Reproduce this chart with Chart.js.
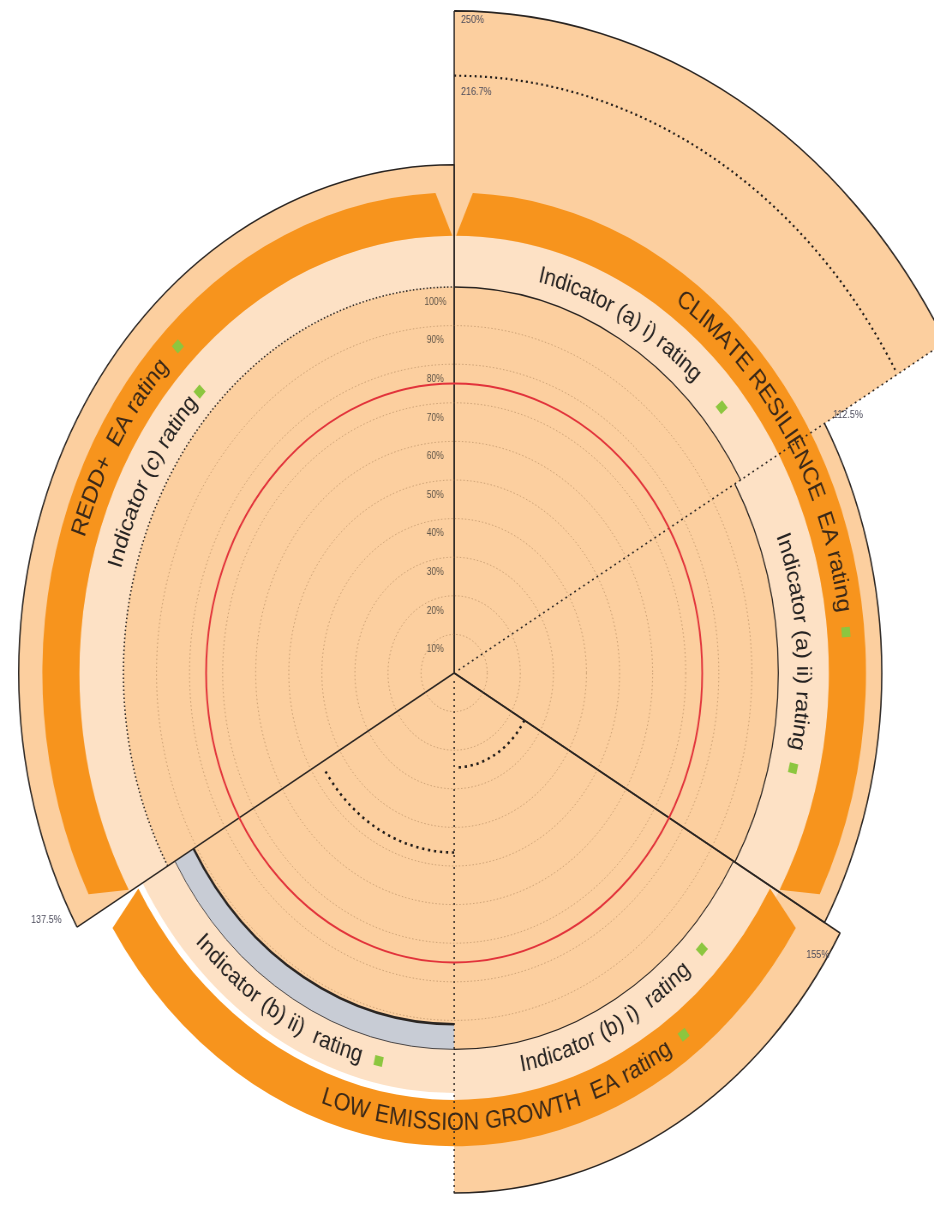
<!DOCTYPE html>
<html>
<head>
<meta charset="utf-8">
<title>EA rating</title>
<script src="https://cdn.jsdelivr.net/npm/chart.js"></script>
<style>
  body { margin: 0; background: #fff; }
</style>
</head>
<body>
<canvas id="myChart" width="1090" height="1206" style="width:934px;height:1206px;display:block"></canvas>
<script>
// indicators, clockwise from the top
const SECTORS = [
  "Indicator (a) i) rating",
  "Indicator (a) ii) rating",
  "Indicator (b) i)  rating",
  "Indicator (b) ii)  rating",
  "Indicator (c) rating",
];
const SECTOR_ANGLES = [60, 60, 60, 60, 120];
const SECTOR_GROUP = [0, 0, 1, 1, 2];
const GROUPS = ["CLIMATE RESILIENCE  EA rating", "LOW EMISSION GROWTH  EA rating", "REDD+  EA rating"];

// values in %
const OUTER_VALUES = [250, 112.5, 155, null, 137.5];
const MARK_VALUES = [216.7, null, 24.5, 46.5, null];
const RATING_VALUES = [100, 98, 97.5, 91, 100];
const GREY_VALUES = [null, null, null, 97.5, null];
const THRESHOLD = 75;
const TICK_STEP = 10;

// scale above 100% is broken and grows with the square
const BREAK_BASE = 129;
const BREAK_CURVE = 0.00189;

const FONT = '"Liberation Sans", Arial, sans-serif';
const FILL = "#fccf9f";
const LIGHT = "#fde1c5";
const ORANGE = "#f7941d";
const GREY = "#c8ccd5";
const GREEN = "#8cc63f";
const LINE = "#2a2522";
const RED = "#e2333b";
const NONE = "rgba(0,0,0,0)";

const DOT_EDGE = [2, 4];
const DOT_MARK = [2.2, 3.8];
const DOT_BIG = [2.6, 4.4];
const DOT_FINE = [1.6, 2.4];

// [outer arc, end edge, start edge]
const OUTLINE_STYLE = [
  ["solid", DOT_EDGE, "solid"],
  ["solid", "solid", "none"],
  ["solid", DOT_EDGE, "solid"],
  null,
  ["solid", "solid", "solid"],
];
const MARK_STYLE = [[DOT_MARK, "none", "none"], null, [DOT_BIG, "none", "none"], [DOT_BIG, "none", "none"], null];
const RATING_STYLE = [
  ["solid", "none", "none"],
  ["solid", "none", "none"],
  ["solid", "none", "none"],
  ["solid", "none", "none"],
  [DOT_FINE, "none", "none"],
];
const RATING_WIDTH = [1.3, 1.3, 1.1, 2.6, 1.6];

const TEXT_LAYOUT = [
  { at: 29, r: 1.062, lower: false, gap: 40 },
  { at: 85.5, r: 1.054, lower: false, gap: 18 },
  { at: 153, r: 1.036, lower: true, gap: 24 },
  { at: 212, r: 1.031, lower: true, gap: 20 },
  { at: 298.5, r: 1.06, lower: false, gap: 10 },
];
const GROUP_LAYOUT = [
  { at: 58.5, r0: 1.133, r1: 1.245, lower: false, gap: 22 },
  { at: 173, r0: 1.106, r1: 1.226, lower: true, gap: 20 },
  { at: 300, r0: 1.133, r1: 1.245, lower: false, gap: 22 },
];
const RING_OUTER = 1.133;
const RING_SHORT = 1.088;

const VALUE_LABEL_POS = [
  { dx: 8, dy: 9, align: "left" },
  { dx: 10, dy: -8, align: "left" },
  { dx: -26, dy: 22, align: "center" },
  null,
  { dx: -18, dy: -7, align: "right" },
];

class BrokenRadialScale extends Chart.RadialLinearScale {
  getDistanceFromCenterForValue(value) {
    if (value === null || value === undefined || isNaN(value)) return 0;
    const unit = this.drawingArea / 100;
    if (value <= 100) return value * unit;
    return unit * (BREAK_BASE + BREAK_CURVE * (value - 100) * (value - 100));
  }
}
BrokenRadialScale.id = "brokenRadial";
BrokenRadialScale.defaults = Chart.RadialLinearScale.defaults;
Chart.register(BrokenRadialScale);

function rad(deg) {
  return ((deg - 90) * Math.PI) / 180;
}

// dash array that strokes the arc outline piece by piece
function dashFor(ctx, styles) {
  const i = ctx.dataIndex;
  if (i === undefined) return [];
  const style = styles[i];
  const value = ctx.dataset.data[i];
  if (!style || value == null) return [];
  const R = ctx.chart.scales.r.getDistanceFromCenterForValue(value);
  const lens = [(R * SECTOR_ANGLES[i] * Math.PI) / 180, R, R];
  const dash = [];
  let nextOn = true;
  const add = (len, on) => {
    if (len <= 0) return;
    if (!dash.length && !on) {
      dash.push(0);
      nextOn = false;
    }
    if (on === nextOn) {
      dash.push(len);
      nextOn = !nextOn;
    } else {
      dash[dash.length - 1] += len;
    }
  };
  style.forEach((p, k) => {
    if (p === "solid") add(lens[k], true);
    else if (p === "none") add(lens[k], false);
    else {
      let s = 0;
      while (s + p[0] + p[1] <= lens[k]) {
        add(p[0], true);
        add(p[1], false);
        s += p[0] + p[1];
      }
      add(lens[k] - s, false);
    }
  });
  add(100000, false);
  return dash;
}

function groupSpans() {
  const spans = GROUPS.map(() => [Infinity, -Infinity]);
  let a = 0;
  SECTOR_ANGLES.forEach((sw, i) => {
    const g = SECTOR_GROUP[i];
    spans[g][0] = Math.min(spans[g][0], a);
    spans[g][1] = Math.max(spans[g][1], a + sw);
    a += sw;
  });
  return spans;
}

function arcText(ctx, text, cx, cy, r, centerDeg, lower, font, color) {
  ctx.save();
  ctx.font = font;
  ctx.fillStyle = color;
  ctx.textAlign = "center";
  ctx.textBaseline = "middle";
  const dir = lower ? -1 : 1;
  const total = ctx.measureText(text).width / r;
  let a = rad(centerDeg) - (dir * total) / 2;
  for (const ch of text) {
    const half = ctx.measureText(ch).width / 2 / r;
    a += dir * half;
    ctx.save();
    ctx.translate(cx + r * Math.cos(a), cy + r * Math.sin(a));
    ctx.rotate(a + (dir * Math.PI) / 2);
    ctx.fillText(ch, 0, 0);
    ctx.restore();
    a += dir * half;
  }
  ctx.restore();
  return centerDeg + (((dir * total) / 2) * 180) / Math.PI;
}

function square(ctx, cx, cy, r, deg) {
  const a = rad(deg);
  ctx.save();
  ctx.translate(cx + r * Math.cos(a), cy + r * Math.sin(a));
  ctx.rotate(a + Math.PI / 2);
  ctx.fillStyle = GREEN;
  ctx.fillRect(-5, -5, 10, 10);
  ctx.restore();
}

const decor = {
  id: "decor",
  afterDatasetDraw(chart, args) {
    if (args.index !== 4) return;
    const s = chart.scales.r;
    const ctx = chart.ctx;
    const cx = s.xCenter, cy = s.yCenter, u = s.drawingArea;
    ctx.save();
    // light ring behind the indicator labels
    let a = 0;
    SECTOR_ANGLES.forEach((sw, i) => {
      const rr = (OUTER_VALUES[i] == null ? RING_SHORT : RING_OUTER) * u;
      ctx.beginPath();
      ctx.moveTo(cx, cy);
      ctx.arc(cx, cy, rr, rad(a), rad(a + sw));
      ctx.closePath();
      ctx.fillStyle = LIGHT;
      ctx.fill();
      a += sw;
    });
    // group bands
    groupSpans().forEach(([a0, a1], g) => {
      const L = GROUP_LAYOUT[g];
      const r0 = L.r0 * u, r1 = L.r1 * u;
      ctx.beginPath();
      ctx.arc(cx, cy, r1, rad(a0 + 2.6), rad(a1 - 2.6));
      ctx.lineTo(cx + r0 * Math.cos(rad(a1 - 0.3)), cy + r0 * Math.sin(rad(a1 - 0.3)));
      ctx.arc(cx, cy, r0, rad(a1 - 0.3), rad(a0 + 0.3), true);
      ctx.closePath();
      ctx.fillStyle = ORANGE;
      ctx.fill();
    });
    ctx.restore();
  },
  afterDraw(chart) {
    const s = chart.scales.r;
    const ctx = chart.ctx;
    const cx = s.xCenter, cy = s.yCenter, u = s.drawingArea;
    ctx.save();
    // tick labels
    ctx.font = "10px " + FONT;
    ctx.fillStyle = "#5e5448";
    ctx.textAlign = "center";
    ctx.textBaseline = "middle";
    s.ticks.forEach((t) => {
      if (t.value <= 0 || t.value > 100 || t.value === THRESHOLD) return;
      const r = s.getDistanceFromCenterForValue(t.value);
      ctx.fillText(t.value + "%", cx - 22, cy - r + 15);
    });
    // outer value labels
    ctx.font = "10.5px " + FONT;
    ctx.fillStyle = "#4a4a5a";
    const outline = chart.getDatasetMeta(0).data;
    OUTER_VALUES.forEach((v, i) => {
      const pos = VALUE_LABEL_POS[i];
      if (v == null || !pos) return;
      const el = outline[i];
      const x = el.x + el.outerRadius * Math.cos(el.startAngle);
      const y = el.y + el.outerRadius * Math.sin(el.startAngle);
      ctx.textAlign = pos.align;
      ctx.fillText(v + "%", x + pos.dx, y + pos.dy);
    });
    const marks = chart.getDatasetMeta(1).data;
    MARK_VALUES.forEach((v, i) => {
      if (v == null || v <= 100) return;
      const el = marks[i];
      const x = el.x + el.outerRadius * Math.cos(el.startAngle);
      const y = el.y + el.outerRadius * Math.sin(el.startAngle);
      ctx.textAlign = "left";
      ctx.fillText(v + "%", x + 8, y + 16);
    });
    ctx.restore();

    // curved labels
    SECTORS.forEach((txt, i) => {
      const L = TEXT_LAYOUT[i];
      const r = L.r * u;
      const end = arcText(ctx, txt, cx, cy, r, L.at, L.lower, "24px " + FONT, "#262322");
      const dir = L.lower ? -1 : 1;
      square(ctx, cx, cy, r, end + (dir * (L.gap / r) * 180) / Math.PI);
    });
    GROUPS.forEach((txt, g) => {
      const L = GROUP_LAYOUT[g];
      const r = ((L.r0 + L.r1) / 2) * u;
      const end = arcText(ctx, txt, cx, cy, r, L.at, L.lower, "25px " + FONT, "#3a2818");
      const dir = L.lower ? -1 : 1;
      square(ctx, cx, cy, r, end + (dir * (L.gap / r) * 180) / Math.PI);
    });
  },
};

const angle = (c) => SECTOR_ANGLES[c.dataIndex];

const data = {
  labels: SECTORS,
  datasets: [
    {
      label: "Outer value",
      data: OUTER_VALUES,
      backgroundColor: NONE,
      borderColor: LINE,
      borderWidth: (c) => (OUTER_VALUES[c.dataIndex] == null ? 0 : 1.6),
      borderDash: (c) => dashFor(c, OUTLINE_STYLE),
      angle: angle,
      clip: false,
    },
    {
      label: "Marker",
      data: MARK_VALUES,
      backgroundColor: NONE,
      borderColor: "#1e1a18",
      borderWidth: (c) => (MARK_VALUES[c.dataIndex] == null ? 0 : c.dataIndex === 0 ? 2.2 : 2.6),
      borderDash: (c) => dashFor(c, MARK_STYLE),
      angle: angle,
      clip: false,
    },
    {
      label: "Rating",
      data: RATING_VALUES,
      backgroundColor: FILL,
      borderColor: LINE,
      borderWidth: (c) => RATING_WIDTH[c.dataIndex],
      borderDash: (c) => dashFor(c, RATING_STYLE),
      angle: angle,
      clip: false,
    },
    {
      label: "Range",
      data: GREY_VALUES,
      backgroundColor: GREY,
      borderColor: "#4a4646",
      borderWidth: (c) => (GREY_VALUES[c.dataIndex] == null ? 0 : 1),
      borderDash: (c) => dashFor(c, RATING_STYLE),
      angle: angle,
      clip: false,
    },
    {
      label: "Outer fill",
      data: OUTER_VALUES,
      backgroundColor: FILL,
      borderWidth: 0,
      angle: angle,
      clip: false,
    },
  ],
};

const config = {
  type: "polarArea",
  data: data,
  options: {
    responsive: false,
    animation: false,
    events: [],
    layout: { padding: { left: 144, right: 174, top: 287, bottom: 147 } },
    plugins: { legend: { display: false }, tooltip: { enabled: false } },
    scales: {
      r: {
        type: "brokenRadial",
        min: 0,
        max: 100,
        ticks: { display: false, stepSize: TICK_STEP },
        afterBuildTicks: (scale) => {
          scale.ticks.push({ value: THRESHOLD });
          scale.ticks.sort((a, b) => a.value - b.value);
        },
        grid: {
          z: 1,
          circular: true,
          color: (c) => (c.tick && c.tick.value === THRESHOLD ? RED : c.tick && c.tick.value >= 100 ? NONE : "rgba(150,110,70,0.5)"),
          lineWidth: (c) => (c.tick && c.tick.value === THRESHOLD ? 2 : 1),
        },
        border: { dash: (c) => (c.tick && c.tick.value === THRESHOLD ? [] : [1.5, 2.5]) },
        angleLines: { display: false },
        pointLabels: { display: false },
      },
    },
  },
  plugins: [decor],
};

const ctx = document.getElementById("myChart").getContext("2d");
new Chart(ctx, config);
</script>
</body>
</html>
